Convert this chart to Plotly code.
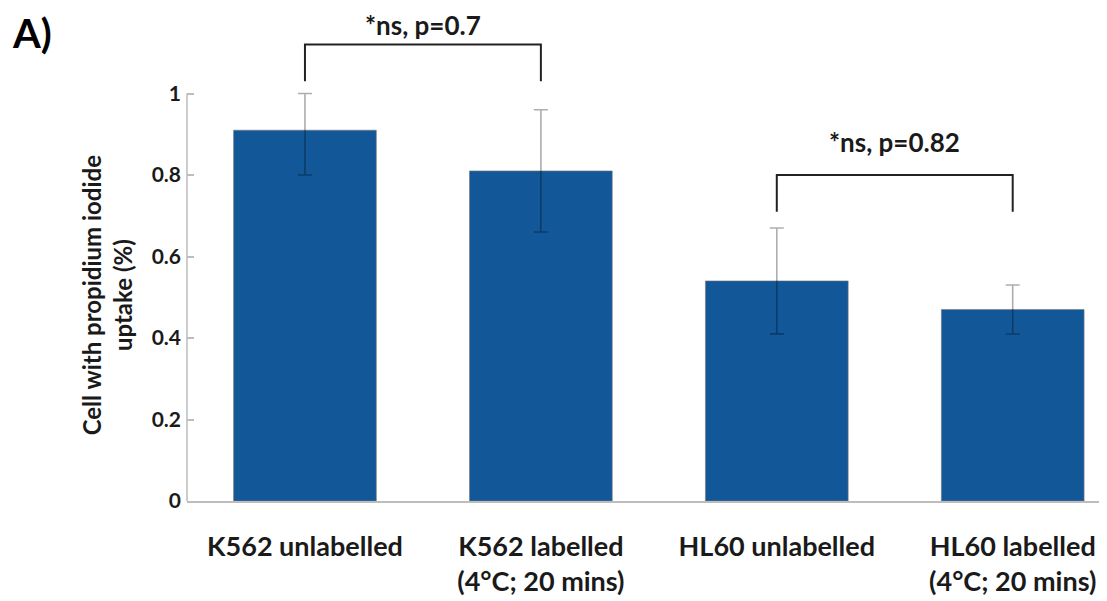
import plotly.graph_objects as go

categories = ["K562 unlabelled", "K562 labelled<br>(4°C; 20 mins)",
              "HL60 unlabelled", "HL60 labelled<br>(4°C; 20 mins)"]
values = [0.91, 0.81, 0.54, 0.47]
err_plus = [0.09, 0.15, 0.13, 0.06]
err_minus = [0.11, 0.15, 0.13, 0.06]
y_ticks = [0, 0.2, 0.4, 0.6, 0.8, 1]
y_tick_text = ["0", "0.2", "0.4", "0.6", "0.8", "1"]

# significance brackets: (left index, right index, label)
comparisons = [(0, 1, "*ns, p=0.7"), (2, 3, "*ns, p=0.82")]

FONT = "Lato"
x_pos = list(range(len(categories)))

fig = go.Figure()
fig.add_trace(go.Bar(
    x=x_pos, y=values, width=0.605,
    marker=dict(color="#125899", line=dict(color="rgba(120,120,120,0.6)", width=1)),
    error_y=dict(type="data", symmetric=False, array=err_plus, arrayminus=err_minus,
                 color="rgba(0,0,0,0.32)", thickness=1.6, width=7),
    showlegend=False, hoverinfo="skip",
))

# layout offsets for each bracket (gap above error bar, label gap above bracket)
bracket_style = [(0.03, 0.049), (0.04, 0.08)]

annotations = []
for (i, j, label), (gap, label_gap) in zip(comparisons, bracket_style):
    top = max(values[i] + err_plus[i], values[j] + err_plus[j])
    low = top + gap
    high = low + 0.09
    fig.add_trace(go.Scatter(
        x=[i, i, j, j], y=[low, high, high, low], mode="lines",
        line=dict(color="#222222", width=2), showlegend=False, hoverinfo="skip",
    ))
    annotations.append(dict(
        x=(i + j) / 2, y=high + label_gap, xref="x", yref="y", text=f"<b>{label}</b>",
        showarrow=False, font=dict(family=FONT, size=26, color="#1a1a1a"),
        yanchor="middle", borderpad=0,
    ))

annotations.append(dict(
    x=-0.0875, y=0.505, xref="paper", yref="y", yanchor="middle", xanchor="center",
    text="<b>Cell with propidium iodide<br>uptake (%)</b>", textangle=-90,
    showarrow=False, font=dict(family=FONT, size=24, color="#1a1a1a"),
))
annotations.append(dict(
    x=-0.193, y=1.008, xref="paper", yref="paper", xanchor="left", yanchor="top",
    text="<b>A)</b>", showarrow=False, font=dict(family=FONT, size=40, color="#000000"),
    borderpad=0,
))

fig.update_layout(
    width=1099, height=593,
    margin=dict(l=179, r=7, t=4, b=98),
    plot_bgcolor="white", paper_bgcolor="white",
    font=dict(family=FONT, color="#1a1a1a"),
    annotations=annotations,
    shapes=[dict(type="line", xref="paper", yref="y", x0=0, x1=0, y0=0, y1=1,
                 line=dict(color="#bdbdbd", width=1.5))],
)
fig.update_xaxes(
    range=[-0.5, 3.37], tickvals=x_pos, ticktext=[f"<b>{c}</b>" for c in categories],
    showline=True, linecolor="#bdbdbd", linewidth=1.5, showgrid=False, zeroline=False,
    ticks="", ticklabelstandoff=21, tickfont=dict(family=FONT, size=27, color="#1a1a1a"),
)
fig.update_yaxes(
    range=[0, 1.2], tickvals=y_ticks, ticktext=[f"<b>{t}</b>" for t in y_tick_text],
    showline=False, showgrid=False, zeroline=False,
    ticks="inside", ticklen=7, tickcolor="#bdbdbd", tickwidth=1.5,
    ticklabelstandoff=5, tickfont=dict(family=FONT, size=21, color="#1a1a1a"),
)

fig.write_html("out.html")
